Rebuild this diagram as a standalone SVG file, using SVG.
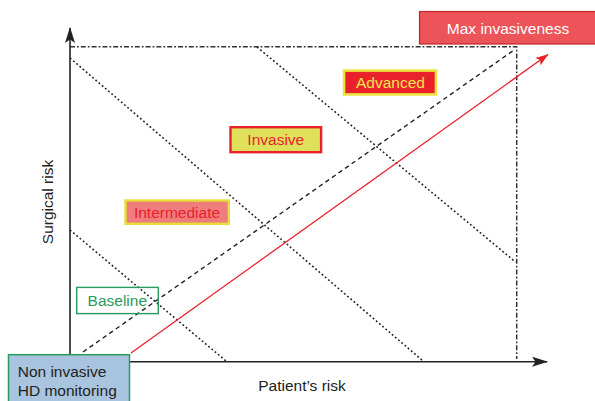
<svg xmlns="http://www.w3.org/2000/svg" width="595" height="401" viewBox="0 0 595 401">
  <style>
    text { font-family: "Liberation Sans", Arial, sans-serif; font-size: 15.5px; }
    .axis { stroke: #222; stroke-width: 1.6; fill: none; }
    .frame { stroke: #333; stroke-width: 1.5; fill: none; stroke-dasharray: 5 2 1.8 2; }
    .dots { stroke: #222; stroke-width: 1.6; fill: none; stroke-dasharray: 1.8 2.4; }
    .dash { stroke: #222; stroke-width: 1.4; fill: none; stroke-dasharray: 4.5 3.5; }
    .trend { stroke: #e8212b; stroke-width: 1.3; fill: none; }
    .mid { text-anchor: middle; }
  </style>
  <defs>
    <marker id="axisHead" viewBox="0 0 16 10" refX="15" refY="5" markerWidth="16" markerHeight="10" markerUnits="userSpaceOnUse" orient="auto">
      <path d="M0,0 L16,5 L0,10 L3.5,5 Z" fill="#222"/>
    </marker>
    <marker id="redHead" viewBox="0 0 13 9" refX="12.5" refY="4.5" markerWidth="13" markerHeight="9" markerUnits="userSpaceOnUse" orient="auto">
      <path d="M0,0 L13,4.5 L0,9 L3,4.5 Z" fill="#e8212b"/>
    </marker>
  </defs>

  <!-- axis titles -->
  <text x="302" y="390.5" class="mid" fill="#222">Patient’s risk</text>
  <text transform="translate(52.5,202) rotate(-90)" class="mid" fill="#222">Surgical risk</text>

  <g id="connectors">
    <!-- outer limit of the risk space -->
    <polyline class="frame" points="70,46.7 516.7,46.7 516.7,359"/>
    <!-- iso-risk boundaries -->
    <line class="dots" x1="257" y1="47" x2="515.5" y2="262"/>
    <line class="dots" x1="70" y1="58" x2="423" y2="361"/>
    <line class="dots" x1="70" y1="230" x2="226" y2="361"/>
    <!-- diagonal reference -->
    <line class="dash" x1="83" y1="352" x2="515.5" y2="49"/>
    <!-- escalation trend -->
    <line class="trend" x1="131" y1="353" x2="548" y2="54.5" marker-end="url(#redHead)"/>
    <!-- axes -->
    <line class="axis" x1="70" y1="362" x2="70" y2="28" marker-end="url(#axisHead)"/>
    <line class="axis" x1="69.2" y1="361.7" x2="547" y2="361.7" marker-end="url(#axisHead)"/>
  </g>

  <g id="max-invasiveness">
    <rect x="419.5" y="11.5" width="177" height="32.5" fill="#ec5459" stroke="#c4262e" stroke-width="1.2"/>
    <text x="508" y="33.5" class="mid" fill="#ffffff">Max invasiveness</text>
  </g>

  <g id="advanced">
    <rect x="344" y="70.6" width="92" height="23.8" fill="#e8212b" stroke="#ece33c" stroke-width="2.6"/>
    <text x="390.5" y="88" class="mid" fill="#f2e54e">Advanced</text>
  </g>

  <g id="invasive">
    <rect x="230.5" y="127.2" width="90.6" height="25" fill="#dfe15b" stroke="#e8212b" stroke-width="2.4"/>
    <text x="275.8" y="145.3" class="mid" fill="#e8212b">Invasive</text>
  </g>

  <g id="intermediate">
    <rect x="125.5" y="200.5" width="103.3" height="23.3" fill="#f07d7d" stroke="#e6df3a" stroke-width="2.4"/>
    <text x="177" y="217.8" class="mid" fill="#e8212b">Intermediate</text>
  </g>

  <g id="baseline">
    <rect x="76.7" y="287.4" width="81.6" height="26.2" fill="none" stroke="#2a9a5c" stroke-width="1.4"/>
    <text x="117.3" y="306.3" class="mid" fill="#2a9a5c">Baseline</text>
  </g>

  <g id="non-invasive">
    <rect x="8.5" y="354.7" width="121" height="50" fill="#a9c4de" stroke="#2a9a5c" stroke-width="1.5"/>
    <text x="17.7" y="377" fill="#222">Non invasive</text>
    <text x="17.7" y="396" fill="#222">HD monitoring</text>
  </g>
</svg>
